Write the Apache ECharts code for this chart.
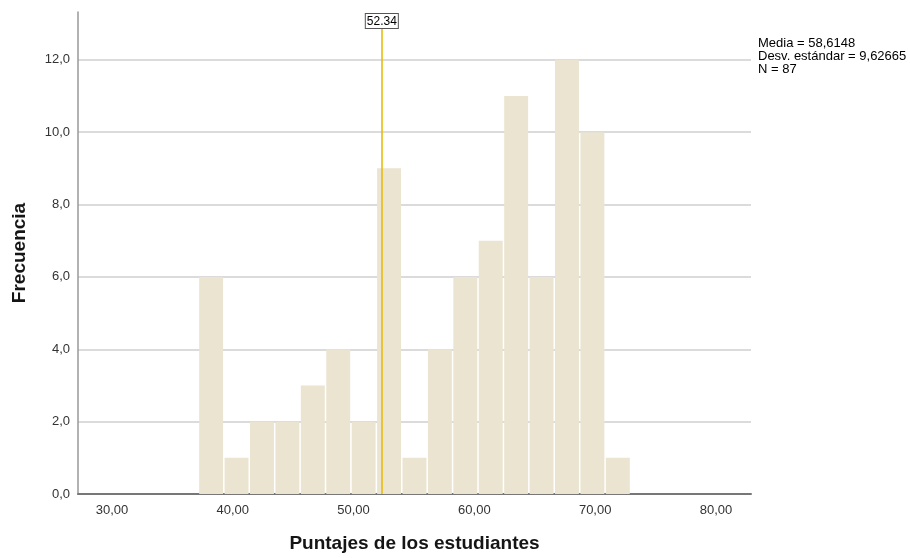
<!DOCTYPE html>
<html>
<head>
<meta charset="utf-8">
<script src="https://cdn.jsdelivr.net/npm/echarts@6/dist/echarts.min.js"></script>
<style>
  html, body { margin: 0; padding: 0; background: #fff; }
  #chart { width: 910px; height: 558px; }
</style>
</head>
<body>
<div id="chart"></div>
<script>
// histogram bins (SPSS style): first bin lower edge and bin width
var binStart = 37.18;
var binWidth = 2.104;
var counts = [6, 1, 2, 2, 3, 4, 2, 9, 1, 4, 6, 7, 11, 6, 12, 10, 1];
var xTicks = [30, 40, 50, 60, 70, 80];
var yTicks = [0, 2, 4, 6, 8, 10, 12];
var refValue = 52.34;
var statsLines = ['Media = 58,6148', 'Desv. estándar = 9,62665', 'N = 87'];

var font = '"Liberation Sans", Arial, sans-serif';

var bins = counts.map(function (c, i) {
  var lo = binStart + i * binWidth;
  return [lo, lo + binWidth, c];
});

var chart = echarts.init(document.getElementById('chart'));

chart.setOption({
  backgroundColor: '#fff',
  animation: false,
  textStyle: { fontFamily: font },
  grid: { left: 78, right: 159, top: 12, bottom: 61 },
  xAxis: {
    type: 'value',
    min: 27.19,
    max: 82.9,
    name: 'Puntajes de los estudiantes',
    nameLocation: 'middle',
    nameGap: 40,
    nameTextStyle: { fontSize: 19, fontWeight: 'bold', color: '#151515', fontFamily: font },
    axisLine: { show: true, onZero: false, lineStyle: { color: '#777', width: 2 } },
    axisTick: { show: false, customValues: xTicks },
    splitLine: { show: false },
    axisLabel: {
      customValues: xTicks,
      margin: 10,
      fontSize: 13,
      color: '#333',
      formatter: function (v) { return v.toFixed(2).replace('.', ','); }
    }
  },
  yAxis: {
    type: 'value',
    min: 0,
    max: 13.32,
    name: 'Frecuencia',
    nameLocation: 'middle',
    nameRotate: 90,
    nameGap: 49,
    nameTextStyle: { fontSize: 19, fontWeight: 'bold', color: '#151515', fontFamily: font },
    axisLine: { show: true, lineStyle: { color: '#999', width: 1.5 } },
    axisTick: { show: false, customValues: yTicks },
    splitLine: { show: true, lineStyle: { color: '#cfcfcf', width: 1.5 } },
    axisLabel: {
      customValues: yTicks,
      margin: 8,
      fontSize: 13,
      color: '#333',
      formatter: function (v) { return v.toFixed(1).replace('.', ','); }
    }
  },
  series: [{
    type: 'custom',
    data: bins,
    encode: { x: [0, 1], y: 2 },
    renderItem: function (params, api) {
      var p0 = api.coord([api.value(0), api.value(2)]);
      var p1 = api.coord([api.value(1), 0]);
      return {
        type: 'rect',
        shape: { x: p0[0] + 0.5, y: p0[1], width: p1[0] - p0[0] - 1.5, height: p1[1] - p0[1] },
        style: { fill: '#EAE4D1' }
      };
    },
    markLine: {
      silent: true,
      symbol: 'none',
      lineStyle: { color: '#E6B800', width: 1.5, type: 'solid' },
      label: {
        show: true,
        position: 'end',
        distance: 0,
        formatter: String(refValue),
        color: '#000',
        fontSize: 12,
        fontFamily: font,
        backgroundColor: '#fff',
        borderColor: '#555',
        borderWidth: 1,
        padding: [2, 1, 0, 1]
      },
      data: [[{ coord: [refValue, 0] }, { coord: [refValue, 12.88] }]]
    }
  }],
  graphic: [{
    type: 'text',
    left: 758,
    top: 37,
    style: {
      text: statsLines.join('\n'),
      font: '13px ' + font,
      lineHeight: 13,
      fill: '#000'
    }
  }]
});
</script>
</body>
</html>
